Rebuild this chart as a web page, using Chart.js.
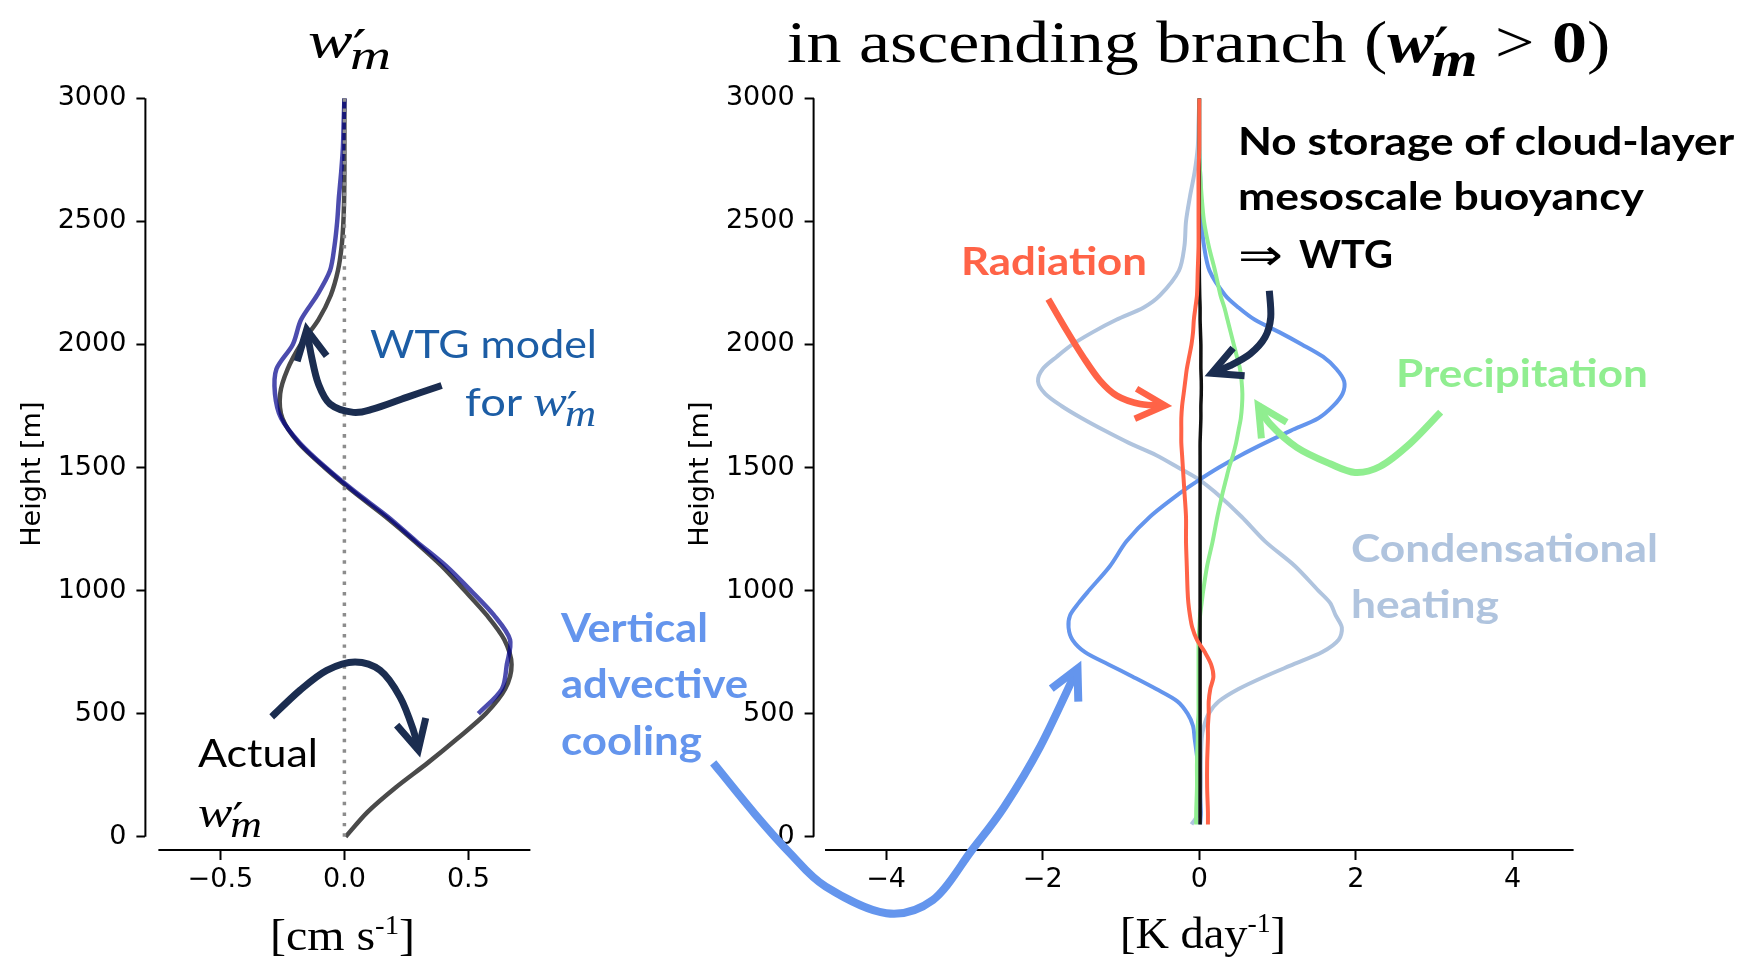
<!DOCTYPE html>
<html>
<head>
<meta charset="utf-8">
<title>Mesoscale vertical velocity and heating profiles</title>
<script src="https://cdn.jsdelivr.net/npm/chart.js@4.4.1/dist/chart.umd.min.js"></script>
<style>
html,body{margin:0;padding:0;background:#fff;}
#stage{position:relative;width:1744px;height:961px;overflow:hidden;background:#fff;}
#stage canvas{position:absolute;left:0;top:0;}
.note{position:absolute;left:0;top:0;white-space:nowrap;line-height:1.2;transform-origin:0 0;font-family:Lato,"Open Sans",sans-serif;}
.note .bl{display:inline-block;width:0;height:0;}
.b{font-weight:700;}
.serif{font-family:"Liberation Serif","DejaVu Serif",serif;}
.mi{font-family:"Liberation Serif","DejaVu Serif",serif;font-style:italic;}
.pr{font-family:"DejaVu Serif","Liberation Serif",serif;font-style:normal;font-weight:400;font-size:0.95em;vertical-align:-0.12em;}
.sb{font-size:0.85em;vertical-align:-0.28em;margin-left:-0.3em;}
.sup{font-size:0.6em;vertical-align:0.62em;}
.sym{font-family:"DejaVu Sans",sans-serif;font-weight:400;}
</style>
</head>
<body>
<div id="stage">
  <canvas id="wm-chart" width="1744" height="961"></canvas>
  <canvas id="heat-chart" width="1744" height="961"></canvas>
</div>
<script>
/* ═══════════════════════════════════
   PROFILE DATA
═══════════════════════════════════ */

/* left panel: w'm [cm/s] against height [m] */
var Z_WM = [0,100,200,300,400,500,600,700,800,900,1000,1100,1200,1300,1400,1500,
            1600,1700,1800,1900,2000,2100,2200,2300,2400,2500,2600,2700,2800,2900,3000];
var W_ACTUAL = [0.005,0.093,0.207,0.336,0.457,0.57,0.648,0.674,0.645,0.574,0.485,0.392,0.283,0.166,0.038,-0.08,
                -0.185,-0.25,-0.259,-0.229,-0.176,-0.105,-0.055,-0.026,-0.011,-0.004,-0.001,0,0,0,0];
var W_WTG = [null,null,null,null,null,0.54,0.635,0.655,0.668,0.603,0.51,0.41,0.29,0.175,0.045,-0.075,
             -0.18,-0.255,-0.28,-0.274,-0.208,-0.175,-0.11,-0.058,-0.04,-0.029,-0.022,-0.013,-0.006,-0.003,0];
var ZERO_X = [0,0];
var ZERO_Z = [0,3000];

/* right panel: heating terms [K/day] against height [m] */
var Z_HEAT = [50,100,200,300,400,450,500,550,600,650,700,750,800,850,900,950,1000,
              1100,1200,1300,1400,1450,1500,1550,1600,1650,1700,1750,1800,1850,1900,1950,2000,
              2050,2100,2150,2200,2300,2400,2500,2600,2700,2800,2900,3000];
var Q_COND = [-0.10,0.00,0.02,0.02,0.03,0.06,0.12,0.25,0.50,0.83,1.20,1.57,1.78,1.82,1.74,1.67,1.52,
              1.22,0.84,0.54,0.20,0.00,-0.27,-0.55,-0.90,-1.21,-1.50,-1.76,-1.97,-2.06,-2.00,-1.82,-1.62,
              -1.36,-1.06,-0.71,-0.50,-0.26,-0.19,-0.17,-0.12,-0.06,-0.02,-0.01,0];
var Q_VADV = [0.01,0.02,0.00,-0.02,-0.06,-0.08,-0.15,-0.28,-0.55,-0.85,-1.16,-1.46,-1.62,-1.67,-1.65,-1.54,-1.41,
              -1.14,-0.93,-0.63,-0.23,0.00,0.25,0.53,0.84,1.17,1.52,1.71,1.83,1.85,1.75,1.58,1.31,
              1.02,0.71,0.50,0.33,0.13,0.06,0.03,0.02,0.01,0,0,0];
var Q_PREC = [-0.04,-0.04,-0.03,-0.03,-0.02,-0.02,-0.01,-0.01,-0.01,-0.01,-0.01,-0.01,-0.01,0.00,0.01,0.03,0.05,
              0.10,0.17,0.23,0.30,0.34,0.38,0.43,0.47,0.50,0.53,0.545,0.55,0.54,0.52,0.48,0.44,
              0.40,0.36,0.32,0.27,0.20,0.12,0.06,0.03,0.01,0,0,0];
var Q_RAD = [0.11,0.11,0.10,0.10,0.11,0.11,0.12,0.12,0.14,0.18,0.15,0.07,-0.03,-0.09,-0.12,-0.14,-0.15,
             -0.16,-0.17,-0.17,-0.19,-0.20,-0.21,-0.22,-0.23,-0.23,-0.23,-0.22,-0.20,-0.18,-0.16,-0.13,-0.10,
             -0.08,-0.07,-0.05,-0.03,-0.02,-0.01,-0.01,-0.01,-0.01,0,0,0];
var Q_NET = [0.01,0.01,0.01,0.01,0.01,0.01,0.01,0.01,0.01,0.01,0.01,0.01,0.01,0.01,0.01,0.01,0.01,
             0.01,0.01,0.01,0.01,0.01,0.01,0.01,0.01,0.015,0.02,0.02,0.025,0.025,0.02,0.02,0.02,
             0.015,0.01,0.01,0.005,0,0,0,0,0,0,0,0];

/* ticks */
var Z_TICKS = [0,500,1000,1500,2000,2500,3000];
var WM_TICKS = [-0.5,0,0.5];
var Q_TICKS = [-4,-2,0,2,4];

/* annotation arrows, in each panel's data units (x value, height) */
var ARROW_WTG_L = [[0.392,1833],[0.251,1785],[0.117,1738],[0.036,1724],[-0.058,1758],[-0.105,1840],[-0.132,1948],[-0.152,2060]];
var ARROW_ACT_L = [[-0.293,487],[-0.179,595],[-0.071,676],[0.043,710],[0.144,676],[0.224,568],[0.278,433],[0.298,352]];
var ARROW_WTG_R = [[0.894,2218],[0.912,2110],[0.839,2029],[0.648,1961],[0.392,1914],[0.158,1883]];
var ARROW_RAD = [[-1.928,2184],[-1.693,2056],[-1.481,1948],[-1.268,1853],[-1.055,1792],[-0.757,1758],[-0.438,1752]];
var ARROW_PREC = [[3.082,1725],[2.691,1597],[2.308,1504],[1.989,1480],[1.670,1515],[1.244,1582],[0.903,1677],[0.754,1752]];
var ARROW_VADV = [[-6.208,300],[-5.683,95],[-5.227,-67],[-4.771,-203],[-3.996,-311],[-3.402,-257],[-2.903,-54],[-2.490,122],[-2.034,365],[-1.556,683]];

var NAVY = '#1b2d50';

/* ═══════════════════════════════════
   HELPERS
═══════════════════════════════════ */
function profile(xs, zs){
  var pts = [];
  zs.forEach(function(z, i){ if(xs[i] !== null) pts.push({x: xs[i], y: z}); });
  return pts;
}

function line(xs, zs, color, width, order, dash){
  return {
    data: profile(xs, zs),
    borderColor: color,
    borderWidth: width,
    borderDash: dash || [],
    borderCapStyle: 'butt',
    pointRadius: 0,
    tension: 0.3,
    fill: false,
    order: order
  };
}

// catmull-rom through the points
function smoothPath(ctx, p){
  ctx.moveTo(p[0][0], p[0][1]);
  for(var i=0;i<p.length-1;i++){
    var a = p[i-1] || p[i], b = p[i], c = p[i+1], d = p[i+2] || c;
    ctx.bezierCurveTo(b[0]+(c[0]-a[0])/6, b[1]+(c[1]-a[1])/6,
                      c[0]-(d[0]-b[0])/6, c[1]-(d[1]-b[1])/6, c[0], c[1]);
  }
}

function drawArrow(ctx, p, color, width){
  ctx.save();
  ctx.strokeStyle = color;
  ctx.lineWidth = width;
  ctx.lineCap = 'butt';
  ctx.lineJoin = 'miter';
  ctx.beginPath();
  smoothPath(ctx, p);
  ctx.stroke();
  var t = p[p.length-1], s = p[p.length-2];
  var ang = Math.atan2(t[1]-s[1], t[0]-s[0]);
  var L = 33, h = 27*Math.PI/180;
  ctx.beginPath();
  ctx.moveTo(t[0]-L*Math.cos(ang-h), t[1]-L*Math.sin(ang-h));
  ctx.lineTo(t[0], t[1]);
  ctx.lineTo(t[0]-L*Math.cos(ang+h), t[1]-L*Math.sin(ang+h));
  ctx.stroke();
  ctx.restore();
}

// spines (trimmed y spine, offset x spine) and the curved arrows
function makeFrame(spec){
  return {
    id: 'frame',
    afterDatasetsDraw: function(chart){
      var ctx = chart.ctx, xs = chart.scales.x, ys = chart.scales.y, area = chart.chartArea;
      ctx.save();
      ctx.strokeStyle = '#000';
      ctx.lineWidth = 2;
      ctx.beginPath();
      ctx.moveTo(area.left, ys.getPixelForValue(0));
      ctx.lineTo(area.left, ys.getPixelForValue(3000));
      ctx.moveTo(xs.getPixelForValue(spec.xFrom), area.bottom);
      ctx.lineTo(xs.getPixelForValue(spec.xTo), area.bottom);
      ctx.stroke();
      ctx.restore();
      spec.arrows.forEach(function(a){
        var px = a.pts.map(function(q){ return [xs.getPixelForValue(q[0]), ys.getPixelForValue(q[1])]; });
        drawArrow(ctx, px, a.color, a.width);
      });
    }
  };
}

function axisY(){
  return {
    type: 'linear', min: -54, max: 3000, bounds: 'data',
    afterBuildTicks: function(s){ s.ticks = Z_TICKS.map(function(v){ return {value: v}; }); },
    afterFit: function(s){ s.width = 145.4; },
    border: {display: false},
    grid: {drawOnChartArea: false, tickLength: 9, tickWidth: 2, tickColor: '#000'},
    ticks: {color: '#000', font: {family: 'DejaVu Sans', size: 27}, padding: 10, autoSkip: false,
            callback: function(v){ return String(v); }},
    title: {display: true, text: 'Height [m]', color: '#000',
            font: {family: 'DejaVu Sans', size: 27}, padding: {top: 17, bottom: 0}}
  };
}

function axisX(min, max, ticks, fmt){
  return {
    type: 'linear', min: min, max: max, bounds: 'data',
    afterBuildTicks: function(s){ s.ticks = ticks.map(function(v){ return {value: v}; }); },
    afterFit: function(s){ s.height = 60; },
    border: {display: false},
    grid: {drawOnChartArea: false, tickLength: 10, tickWidth: 2, tickColor: '#000'},
    ticks: {color: '#000', font: {family: 'DejaVu Sans', size: 27}, padding: 4,
            autoSkip: false, maxRotation: 0, callback: fmt}
  };
}

function minus(v, digits){
  var s = digits ? Math.abs(v).toFixed(digits) : String(Math.abs(v));
  return (v < 0 ? '\u2212' : '') + s;
}

function baseOptions(pad, xAxis){
  return {
    responsive: false,
    animation: false,
    devicePixelRatio: 1,
    layout: {padding: pad},
    plugins: {legend: {display: false}, tooltip: {enabled: false}},
    scales: {x: xAxis, y: axisY()}
  };
}

/* ═══════════════════════════════════
   CHARTS
═══════════════════════════════════ */
function buildWmChart(){
  new Chart(document.getElementById('wm-chart'), {
    type: 'line',
    data: {datasets: [
      line(ZERO_X, ZERO_Z, '#8c8c8c', 3.5, 0, [3.5, 7]),
      line(W_WTG, Z_WM, 'rgba(0,0,139,0.7)', 4.5, 1),
      line(W_ACTUAL, Z_WM, '#4a4a4a', 4.5, 2)
    ]},
    options: baseOptions({left: 0, right: 1213.6, top: 98.3, bottom: 51},
      axisX(-0.8024, 0.75, WM_TICKS, function(v){ return minus(v, 1); })),
    plugins: [makeFrame({xFrom: -0.75, xTo: 0.75, arrows: [
      {pts: ARROW_WTG_L, color: NAVY, width: 7},
      {pts: ARROW_ACT_L, color: NAVY, width: 7}
    ]})]
  });
}

function buildHeatChart(){
  new Chart(document.getElementById('heat-chart'), {
    type: 'line',
    data: {datasets: [
      line(Q_RAD, Z_HEAT, '#ff6347', 4, 0),
      line(Q_NET, Z_HEAT, '#111111', 3.5, 1),
      line(Q_PREC, Z_HEAT, '#90ee90', 4, 2),
      line(Q_VADV, Z_HEAT, '#6495ed', 4, 3),
      line(Q_COND, Z_HEAT, '#b0c4de', 4, 4)
    ]},
    options: baseOptions({left: 668.2, right: 170.4, top: 98.3, bottom: 51},
      axisX(-4.926, 4.78, Q_TICKS, function(v){ return minus(v); })),
    plugins: [makeFrame({xFrom: -4.78, xTo: 4.78, arrows: [
      {pts: ARROW_WTG_R, color: NAVY, width: 7},
      {pts: ARROW_RAD, color: '#ff6347', width: 6.5},
      {pts: ARROW_PREC, color: '#90ee90', width: 7},
      {pts: ARROW_VADV, color: '#6495ed', width: 8}
    ]})]
  });
}

/* ═══════════════════════════════════
   TEXT
═══════════════════════════════════ */
function wm(bold){
  var t = bold ? 'b' : 'span';
  return '<' + t + ' class="mi">w</' + t + '><span class="pr">\u2032</span><' + t + ' class="mi sb">m</' + t + '>';
}

// x = left edge, base = baseline, w = drawn width
var NOTES = [
  {x: 308, base: 57, w: 83, size: 50, cls: 'serif', html: wm(false)},
  {x: 787, base: 62, w: 823, size: 60, cls: 'serif', html: 'in ascending branch (' + wm(true) + ' &gt; <b>0</b>)'},
  {x: 270, base: 950, w: 145, size: 44, cls: 'serif', html: '[cm s<span class="sup">-1</span>]'},
  {x: 1120, base: 948, w: 166, size: 44, cls: 'serif', html: '[K day<span class="sup">-1</span>]'},
  {x: 370, base: 358, w: 227, size: 39, color: '#1c5da5', html: 'WTG model'},
  {x: 465, base: 416, w: 131, size: 39, color: '#1c5da5', html: 'for <span style="font-size:1.12em">' + wm(false) + '</span>'},
  {x: 198, base: 767, w: 120, size: 39, html: 'Actual'},
  {x: 198, base: 827, w: 64, size: 44, html: wm(false)},
  {x: 1238, base: 155, w: 496, size: 39, cls: 'b', html: 'No storage of cloud-layer'},
  {x: 1238, base: 210, w: 406, size: 39, cls: 'b', html: 'mesoscale buoyancy'},
  {x: 1238, base: 270, w: 45, size: 44, cls: 'sym', html: '\u21d2'},
  {x: 1299, base: 268, w: 94, size: 39, cls: 'b', html: 'WTG'},
  {x: 961, base: 275, w: 186, size: 39, cls: 'b', color: '#ff6347', html: 'Radiation'},
  {x: 1396, base: 387, w: 252, size: 39, cls: 'b', color: '#90ee90', html: 'Precipitation'},
  {x: 1351, base: 562, w: 307, size: 39, cls: 'b', color: '#b0c4de', html: 'Condensational'},
  {x: 1351, base: 618, w: 148, size: 39, cls: 'b', color: '#b0c4de', html: 'heating'},
  {x: 561, base: 642, w: 147, size: 41, cls: 'b', color: '#6495ed', html: 'Vertical'},
  {x: 561, base: 698, w: 187, size: 41, cls: 'b', color: '#6495ed', html: 'advective'},
  {x: 561, base: 755, w: 141, size: 41, cls: 'b', color: '#6495ed', html: 'cooling'}
];

function placeNotes(){
  var stage = document.getElementById('stage');
  NOTES.forEach(function(n){
    var el = document.createElement('div');
    el.className = 'note ' + (n.cls || '');
    el.style.fontSize = n.size + 'px';
    el.style.color = n.color || '#000';
    el.innerHTML = n.html + '<span class="bl"></span>';
    stage.appendChild(el);
    var base = el.querySelector('.bl').offsetTop;
    var width = el.getBoundingClientRect().width;
    el.style.left = n.x + 'px';
    el.style.top = (n.base - base) + 'px';
    el.style.transform = 'scaleX(' + (n.w / width).toFixed(3) + ')';
  });
}

document.fonts.ready.then(function(){
  buildWmChart();
  buildHeatChart();
  placeNotes();
});
</script>
</body>
</html>
